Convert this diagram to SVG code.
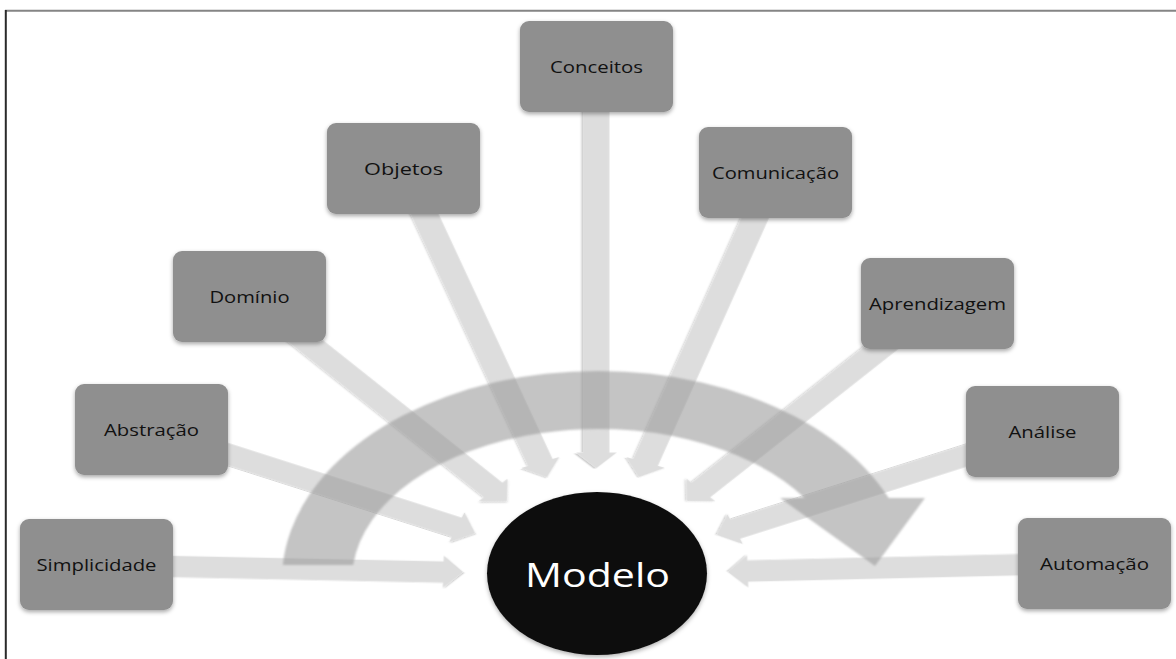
<svg xmlns="http://www.w3.org/2000/svg" width="1176" height="659" viewBox="0 0 1176 659">
  <defs>
    <style>
      .node rect { fill: #8f8f8f; filter: url(#boxShadow); }
      .node text { font-family: "Open Sans", "Liberation Sans", sans-serif; font-size: 16px; fill: #111; text-anchor: middle; }
      .hub text { font-family: "Open Sans", "Liberation Sans", sans-serif; font-size: 32px; fill: #fff; text-anchor: middle; }
      .conn { fill: #d2d2d2; fill-opacity: 0.72; filter: url(#edgeShadow); }
      .cycle { fill: #999; fill-opacity: 0.58; filter: url(#soft); }
    </style>
    <filter id="boxShadow" x="-10%" y="-10%" width="120%" height="130%">
      <feDropShadow dx="0" dy="2" stdDeviation="2" flood-color="#000" flood-opacity="0.35"/>
    </filter>
    <filter id="edgeShadow" x="-10%" y="-10%" width="120%" height="120%">
      <feGaussianBlur in="SourceAlpha" stdDeviation="0.7" result="b"/>
      <feOffset in="b" dx="0.6" dy="1.2" result="o"/>
      <feComposite in="o" in2="SourceAlpha" operator="out" result="edge"/>
      <feColorMatrix in="edge" type="matrix" values="0 0 0 0 0  0 0 0 0 0  0 0 0 0 0  0 0 0 0.3 0" result="shade"/>
      <feMerge><feMergeNode in="shade"/><feMergeNode in="SourceGraphic"/></feMerge>
    </filter>
    <filter id="soft" x="-5%" y="-5%" width="110%" height="110%">
      <feGaussianBlur stdDeviation="1.1"/>
    </filter>
    <filter id="hubShadow" x="-10%" y="-10%" width="120%" height="130%">
      <feDropShadow dx="0" dy="2" stdDeviation="2" flood-color="#000" flood-opacity="0.3"/>
    </filter>
    <!-- block arrow pointing along +x, tip at origin; shaft start supplied per use -->
  </defs>

  <rect width="1176" height="659" fill="#fff"/>

  <!-- frame -->
  <line x1="5" y1="10.8" x2="1176" y2="10.8" stroke="#858585" stroke-width="2"/>
  <line x1="5.8" y1="10" x2="5.8" y2="659" stroke="#2a2a2a" stroke-width="2"/>

  <!-- spoke arrows, drawn in a horizontally stretched frame -->
  <g id="connectors">
    <g transform="scale(1.27 1)">
      <path class="conn" transform="translate(364.57 572) rotate(1.49)" d="M-288.7 -10.3H-15.5V-16L0 0L-15.5 16V10.3H-288.7Z"/>
      <path class="conn" transform="translate(374.02 533) rotate(22.11)" d="M-274.95 -10.3H-15.5V-16L0 0L-15.5 16V10.3H-274.95Z"/>
      <path class="conn" transform="translate(399.21 501) rotate(45.25)" d="M-287.97 -10.3H-15.5V-16L0 0L-15.5 16V10.3H-287.97Z"/>
      <path class="conn" transform="translate(430.71 477) rotate(69.88)" d="M-328.5 -10.3H-15.5V-16L0 0L-15.5 16V10.3H-328.5Z"/>
      <path class="conn" transform="translate(469.69 468) rotate(90)" d="M-401.5 -10.3H-15.5V-16L0 0L-15.5 16V10.3H-401.5Z"/>
      <path class="conn" transform="translate(503.15 477) rotate(109.44)" d="M-322.9 -10.3H-15.5V-16L0 0L-15.5 16V10.3H-322.9Z"/>
      <path class="conn" transform="translate(540.94 501) rotate(134.96)" d="M-279.1 -10.3H-15.5V-16L0 0L-15.5 16V10.3H-279.1Z"/>
      <path class="conn" transform="translate(564.57 535) rotate(158.01)" d="M-276.4 -10.3H-15.5V-16L0 0L-15.5 16V10.3H-276.4Z"/>
      <path class="conn" transform="translate(573.23 572) rotate(178.31)" d="M-288.7 -10.3H-15.5V-16L0 0L-15.5 16V10.3H-288.7Z"/>
    </g>
  </g>

  <!-- circular arrow sweeping over the hub -->
  <g id="cycle-arrow">
    <path class="cycle" d="M282.8 565 A316 209 0 0 1 888.7 498 L925 498 L875 566 L780 498 L804.6 498 A246 151 0 0 0 353.2 565 Z"/>
  </g>

  <g id="node-simplicidade" class="node">
    <rect x="20" y="519" width="153" height="91" rx="9"/>
    <text x="96.5" y="570.5" textLength="120" lengthAdjust="spacingAndGlyphs">Simplicidade</text>
  </g>
  <g id="node-abstracao" class="node">
    <rect x="75" y="384" width="153" height="91" rx="9"/>
    <text x="151.5" y="435.5" textLength="95" lengthAdjust="spacingAndGlyphs">Abstração</text>
  </g>
  <g id="node-dominio" class="node">
    <rect x="173" y="251" width="153" height="91" rx="9"/>
    <text x="249.5" y="302.5" textLength="80" lengthAdjust="spacingAndGlyphs">Domínio</text>
  </g>
  <g id="node-objetos" class="node">
    <rect x="327" y="123" width="153" height="91" rx="9"/>
    <text x="403.5" y="174.5" textLength="79" lengthAdjust="spacingAndGlyphs">Objetos</text>
  </g>
  <g id="node-conceitos" class="node">
    <rect x="520" y="21" width="153" height="91" rx="9"/>
    <text x="596.5" y="72.5" textLength="93" lengthAdjust="spacingAndGlyphs">Conceitos</text>
  </g>
  <g id="node-comunicacao" class="node">
    <rect x="699" y="127" width="153" height="91" rx="9"/>
    <text x="775.5" y="178.5" textLength="127" lengthAdjust="spacingAndGlyphs">Comunicação</text>
  </g>
  <g id="node-aprendizagem" class="node">
    <rect x="861" y="258" width="153" height="91" rx="9"/>
    <text x="937.5" y="309.5" textLength="137" lengthAdjust="spacingAndGlyphs">Aprendizagem</text>
  </g>
  <g id="node-analise" class="node">
    <rect x="966" y="386" width="153" height="91" rx="9"/>
    <text x="1042.5" y="437.5" textLength="68" lengthAdjust="spacingAndGlyphs">Análise</text>
  </g>
  <g id="node-automacao" class="node">
    <rect x="1018" y="518" width="153" height="91" rx="9"/>
    <text x="1094.5" y="569.5" textLength="109" lengthAdjust="spacingAndGlyphs">Automação</text>
  </g>

  <g id="node-modelo" class="hub">
    <ellipse cx="597" cy="573.5" rx="110" ry="81.5" fill="#111" filter="url(#hubShadow)"/>
    <text x="597.5" y="587" textLength="145" lengthAdjust="spacingAndGlyphs">Modelo</text>
  </g>
</svg>
